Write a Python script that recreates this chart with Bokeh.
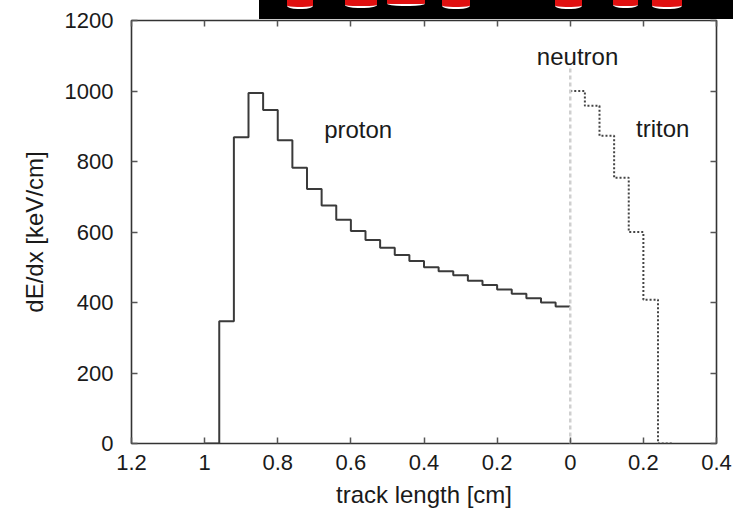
import numpy as np
from bokeh.plotting import figure
from bokeh.layouts import column
from bokeh.models import Range1d, FixedTicker, CustomJSTickFormatter, LinearAxis, Label, Div
from bokeh.embed import file_html
from bokeh.resources import INLINE

# ---- data ----
bin_width = 0.04  # cm
proton_start = -1.0  # proton track runs from 1.0 cm back to the vertex (0)
proton_dedx = [0, 347, 869, 994, 946, 860, 782, 722, 675, 635, 603, 577, 555,
               535, 518, 500, 489, 477, 462, 450, 437, 425, 412, 400, 389]
triton_start = 0.0
triton_dedx = [1000, 958, 873, 754, 600, 408, 0]
neutron_x = [0.0, 0.0]
neutron_y = [0, 1065]

x_ticks = [-1.2, -1.0, -0.8, -0.6, -0.4, -0.2, 0.0, 0.2, 0.4]
x_tick_labels = ["1.2", "1", "0.8", "0.6", "0.4", "0.2", "0", "0.2", "0.4"]
y_ticks = [0, 200, 400, 600, 800, 1000, 1200]

labels = [("proton", -0.58, 891), ("triton", 0.253, 893), ("neutron", 0.02, 1098)]

FONT = "Liberation Sans"
BANNER_H = 19

p = figure(width=733, height=519, output_backend="svg", toolbar_location=None,
           x_range=Range1d(-1.2, 0.4), y_range=Range1d(0, 1200),
           min_border_left=131, min_border_right=17, min_border_top=20, min_border_bottom=76,
           margin=(-BANNER_H, 0, 0, 0))
p.background_fill_color = "white"
p.border_fill_color = "white"
p.border_fill_alpha = 0
p.outline_line_color = "#333333"
p.outline_line_width = 1.6
p.xgrid.visible = False
p.ygrid.visible = False

# proton step
px = [proton_start + i * bin_width for i in range(len(proton_dedx))] + [proton_start + len(proton_dedx) * bin_width]
py = proton_dedx + [proton_dedx[-1]]
p.step(px, py, mode="after", line_color="#3a3a3a", line_width=2)

# triton step
tx = [triton_start + i * bin_width for i in range(len(triton_dedx))] + [triton_start + len(triton_dedx) * bin_width]
ty = triton_dedx + [triton_dedx[-1]]
p.step(tx, ty, mode="after", line_color="#444444", line_width=2, line_dash="2 2")

# neutron line
p.line(neutron_x, neutron_y, line_color="#cfcfcf", line_width=2.5, line_dash="4 3")

for txt, lx, ly in labels:
    p.add_layout(Label(x=lx, y=ly, text=txt, text_align="center", text_baseline="middle",
                       text_font=FONT, text_font_size="24px", text_color="#1a1a1a"))

# axes
xa = p.xaxis[0]
xa.ticker = FixedTicker(ticks=x_ticks)
xa.formatter = CustomJSTickFormatter(args=dict(tvals=x_ticks, labs=x_tick_labels), code="""
    for (let i = 0; i < tvals.length; i++) { if (Math.abs(tvals[i] - tick) < 1e-9) return labs[i]; }
    return "";
""")
ya = p.yaxis[0]
ya.ticker = FixedTicker(ticks=y_ticks)
for ax in (xa, ya):
    ax.axis_line_color = None
    ax.major_tick_in = 6
    ax.major_tick_out = 0
    ax.minor_tick_line_color = None
    ax.major_tick_line_color = "#555555"
    ax.major_tick_line_width = 1.5
    ax.major_label_text_font = FONT
    ax.major_label_text_font_size = "22px"
    ax.major_label_text_color = "#1a1a1a"
    ax.axis_label_text_font = FONT
    ax.axis_label_text_font_size = "24px"
    ax.axis_label_text_font_style = "normal"
    ax.axis_label_text_color = "#1a1a1a"
xa.axis_label = "track length [cm]"
ya.axis_label = "dE/dx [keV/cm]"
xa.major_label_standoff = 11
xa.axis_label_standoff = 8
ya.major_label_standoff = 18
ya.axis_label_standoff = 14

# mirror axes (ticks only)
top = LinearAxis(ticker=FixedTicker(ticks=x_ticks))
right = LinearAxis(ticker=FixedTicker(ticks=y_ticks))
for ax in (top, right):
    ax.axis_line_color = None
    ax.major_tick_in = 6
    ax.major_tick_out = 0
    ax.major_label_standoff = 0
    ax.minor_tick_line_color = None
    ax.major_tick_line_color = "#555555"
    ax.major_tick_line_width = 1.5
    ax.major_label_text_font_size = "0px"
    ax.major_label_text_color = None
p.add_layout(top, "above")
p.add_layout(right, "right")

# black banner strip (cropped picture above the chart) with cut-off red shapes
blobs = [(28, 26, 9), (86, 32, 8), (128, 38, 6), (183, 28, 9), (296, 27, 9), (354, 25, 8), (393, 30, 9)]
html = '<div style="position:relative;width:474px;height:19px;background:#000;overflow:hidden;">'
for bl, bw, bh in blobs:
    html += ('<div style="position:absolute;left:%dpx;top:0;width:%dpx;height:%dpx;background:#e01010;'
             'border-bottom:2px solid #fff;border-radius:0 0 40%% 40%%;"></div>' % (bl, bw, bh))
html += '</div>'
banner = Div(text=html, width=474, height=BANNER_H, margin=(0, 0, 0, 259),
             styles={"background-color": "black"})

layout = column(banner, p, spacing=0)
open("out.html", "w").write(file_html(layout, INLINE))
